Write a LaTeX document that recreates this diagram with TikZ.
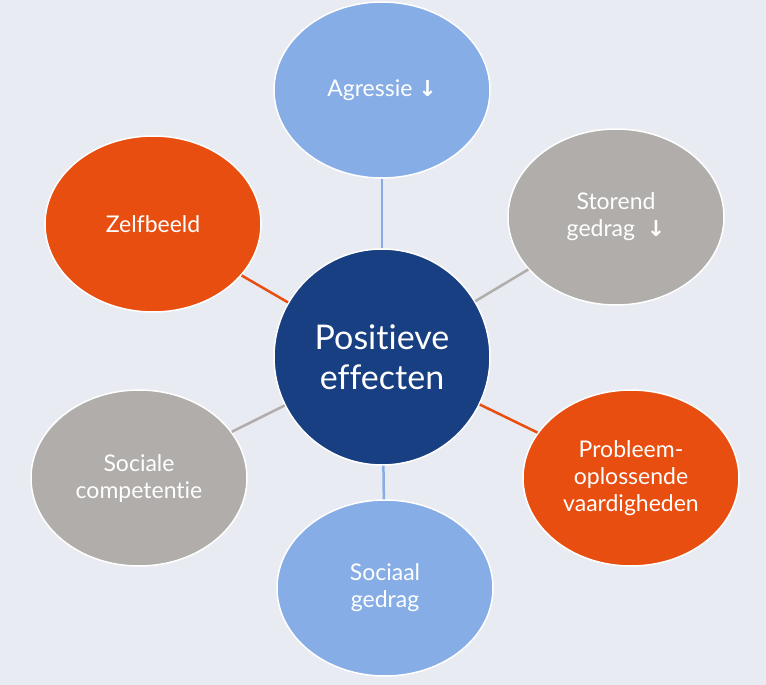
\documentclass[tikz,border=0pt]{standalone}
\usepackage{fontspec}
\setmainfont{Lato}[Ligatures={NoCommon,NoRequired,NoContextual}]
\newfontfamily\arrfont{DejaVu Sans}
\usetikzlibrary{shapes.geometric}
\definecolor{bgc}{HTML}{E8EBF2}
\definecolor{lblue}{HTML}{86ADE6}
\definecolor{gryc}{HTML}{B0ADAB}
\definecolor{orng}{HTML}{E84E10}
\definecolor{dblue}{HTML}{173F82}
\newcommand{\dnarr}{{\arrfont\bfseries\fontsize{22}{27}\selectfont ↓}}
\tikzset{
  bubble/.style={ellipse, draw=white, line width=1.5pt, minimum width=216pt, minimum height=176pt,
    inner sep=0pt, text=white, align=center, font=\fontsize{23}{27}\selectfont},
  hub/.style={circle, draw=white, line width=1.5pt, fill=dblue, minimum size=216pt, inner sep=0pt,
    text=white, align=center, font=\fontsize{34}{40}\selectfont},
  link/.style={line width=2.5pt}
}
\begin{document}
\begin{tikzpicture}[x=1pt,y=-1pt]
\fill[bgc] (0,0) rectangle (766,685);
\useasboundingbox (0,0) rectangle (766,685);
\node[hub] (c) at (382,357) {Positieve\\effecten};
\node[bubble, fill=lblue] (agr) at (382,90) {Agressie \dnarr};
\node[bubble, fill=gryc] (sto) at (616,217) {Storend\\gedrag \ \dnarr};
\node[bubble, fill=orng] (pro) at (631,478) {Probleem-\\oplossende\\vaardigheden};
\node[bubble, fill=lblue] (soc) at (385,588) {Sociaal\\gedrag};
\node[bubble, fill=gryc] (com) at (139,478) {Sociale\\competentie};
\node[bubble, fill=orng] (zel) at (153,224) {Zelfbeeld};
\draw[link, lblue] (c) -- (agr);
\draw[link, gryc] (c) -- (sto);
\draw[link, orng] (c) -- (pro);
\draw[link, lblue] (c) -- (soc);
\draw[link, gryc] (c) -- (com);
\draw[link, orng] (c) -- (zel);
\end{tikzpicture}
\end{document}
